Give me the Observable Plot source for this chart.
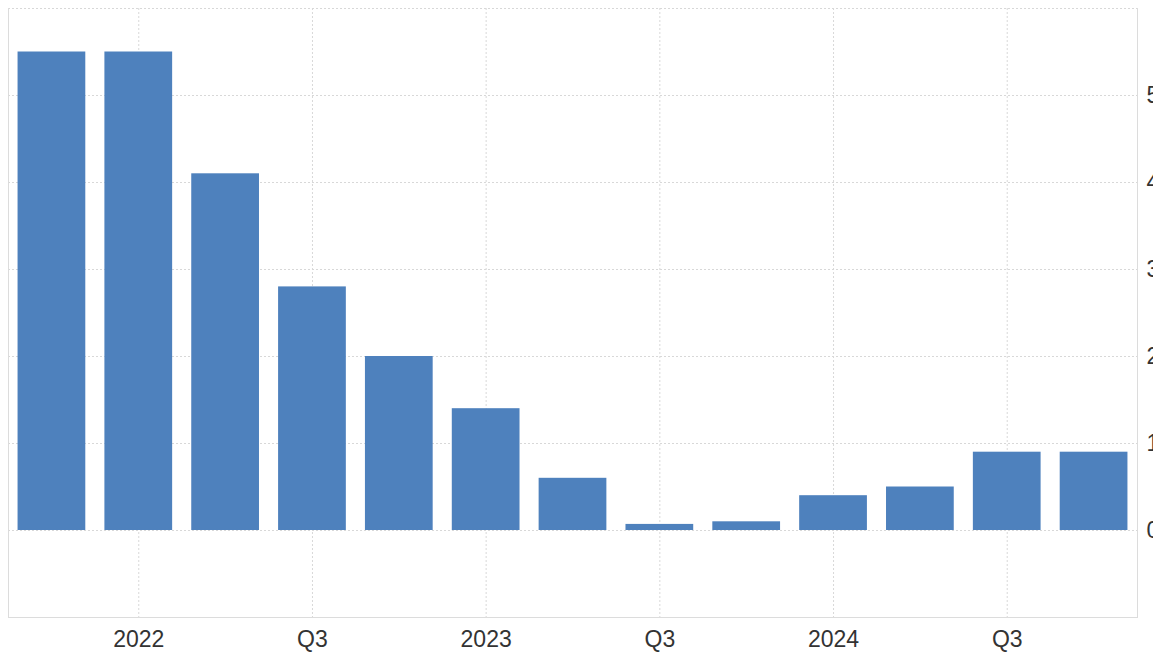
<!DOCTYPE html>
<html>
<head>
<meta charset="utf-8">
<script src="https://cdn.jsdelivr.net/npm/d3@7"></script>
<script src="https://cdn.jsdelivr.net/npm/@observablehq/plot@0.6"></script>
<style>
  html, body { margin: 0; padding: 0; background: #fff; overflow: hidden; }
  #chart svg { display: block; overflow: hidden; }
</style>
</head>
<body>
<div id="chart"></div>
<script>
const quarters = ["2021Q4","2022Q1","2022Q2","2022Q3","2022Q4","2023Q1","2023Q2","2023Q3","2023Q4","2024Q1","2024Q2","2024Q3","2024Q4"];
const values = [5.5, 5.5, 4.1, 2.8, 2.0, 1.4, 0.6, 0.07, 0.1, 0.4, 0.5, 0.9, 0.9];
const tickQuarters = ["2022Q1","2022Q3","2023Q1","2023Q3","2024Q1","2024Q3"];
const tickLabels = ["2022","Q3","2023","Q3","2024","Q3"];
const yGridValues = [-1, 0, 1, 2, 3, 4, 5, 6];
const yTickValues = [0, 1, 2, 3, 4, 5];

const data = quarters.map((q, i) => ({q, v: values[i]}));
const labelOf = new Map(tickQuarters.map((q, i) => [q, tickLabels[i]]));

const chart = Plot.plot({
  width: 1153,
  height: 654,
  marginLeft: 8,
  marginRight: 16,
  marginTop: 8,
  marginBottom: 37,
  style: {fontFamily: "'Liberation Sans', Arial, sans-serif", color: "#333", background: "#fff"},
  x: {type: "band", domain: quarters, paddingInner: 0.22, paddingOuter: 0.11, round: false},
  y: {domain: [-1, 6]},
  marks: [
    Plot.gridY(yGridValues, {stroke: "#d8d8d8", strokeOpacity: 1, strokeDasharray: "2,2"}),
    Plot.gridX(tickQuarters, {stroke: "#d8d8d8", strokeOpacity: 1, strokeDasharray: "2,2"}),
    Plot.frame({anchor: "left", stroke: "#dcdcdc"}),
    Plot.frame({anchor: "right", stroke: "#dcdcdc"}),
    Plot.frame({anchor: "bottom", stroke: "#dcdcdc"}),
    Plot.barY(data, {x: "q", y: "v", fill: "#4e81bd"}),
    Plot.axisX(tickQuarters, {tickSize: 0, tickPadding: 13, fontSize: 23, fill: "#333", tickFormat: d => labelOf.get(d), label: null}),
    Plot.axisY(yTickValues, {anchor: "right", tickSize: 0, tickPadding: 9, fontSize: 23, fill: "#333", label: null})
  ]
});
document.getElementById("chart").appendChild(chart);
</script>
</body>
</html>
